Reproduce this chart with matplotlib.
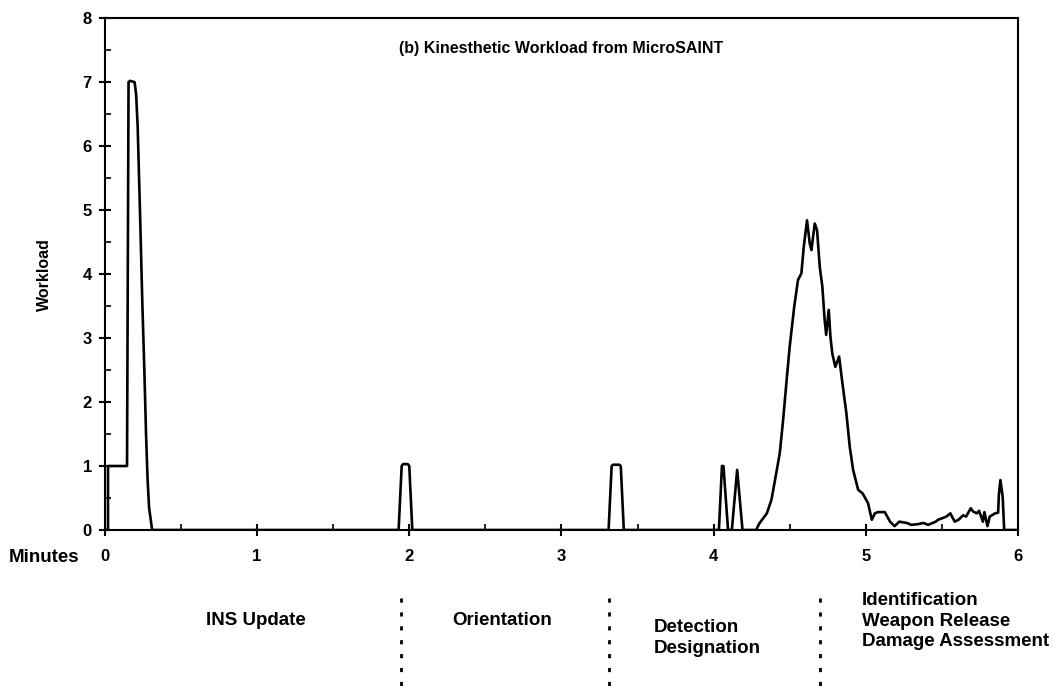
import matplotlib
matplotlib.use('Agg')
import matplotlib.pyplot as plt
from matplotlib.ticker import MultipleLocator

# Workload trace (minutes, workload)
minutes = [0.0, 0.02, 0.02, 0.145, 0.155, 0.165, 0.195, 0.205, 0.215, 0.23, 0.245, 0.26, 0.27, 0.28, 0.29, 0.31,
           1.93, 1.95, 1.96, 1.99, 2.0, 2.02,
           3.31, 3.33, 3.34, 3.38, 3.39, 3.41,
           4.035, 4.055, 4.065, 4.095, 4.12, 4.155, 4.19,
           4.28, 4.30, 4.35, 4.38, 4.40, 4.435, 4.457, 4.48, 4.50, 4.53, 4.555, 4.577, 4.593, 4.614,
           4.632, 4.643, 4.665, 4.68, 4.698, 4.715, 4.73, 4.74, 4.757, 4.768, 4.78, 4.80, 4.825, 4.847,
           4.873, 4.895, 4.917, 4.95, 4.98, 5.015, 5.04, 5.06, 5.08, 5.125, 5.16, 5.19, 5.22, 5.27,
           5.30, 5.34, 5.38, 5.41, 5.46, 5.475, 5.51, 5.53, 5.556, 5.585, 5.61, 5.64, 5.66, 5.69,
           5.705, 5.73, 5.745, 5.77, 5.78, 5.80, 5.815, 5.85, 5.87, 5.875, 5.885, 5.90, 5.91, 6.0]
workload = [0.0, 0.0, 1.0, 1.0, 7.0, 7.02, 7.0, 6.8, 6.3, 5.0, 3.6, 2.4, 1.5, 0.8, 0.35, 0.0,
            0.0, 1.0, 1.03, 1.03, 1.0, 0.0,
            0.0, 1.0, 1.02, 1.02, 1.0, 0.0,
            0.0, 1.0, 1.0, 0.0, 0.0, 0.94, 0.0,
            0.0, 0.10, 0.26, 0.47, 0.73, 1.20, 1.72, 2.34, 2.86, 3.49, 3.91, 4.01, 4.43, 4.84,
            4.48, 4.375, 4.79, 4.69, 4.11, 3.80, 3.28, 3.05, 3.44, 3.02, 2.76, 2.55, 2.71, 2.29,
            1.82, 1.30, 0.94, 0.63, 0.57, 0.42, 0.16, 0.26, 0.28, 0.28, 0.13, 0.06, 0.13, 0.11,
            0.08, 0.09, 0.11, 0.08, 0.13, 0.16, 0.19, 0.21, 0.26, 0.13, 0.16, 0.23, 0.21, 0.34,
            0.29, 0.26, 0.30, 0.13, 0.28, 0.06, 0.21, 0.26, 0.27, 0.55, 0.78, 0.52, 0.0, 0.0]

# Mission phases
phase_bounds = [1.945, 3.31, 4.70]
phase_labels = ['INS Update', 'Orientation', 'Detection\nDesignation',
                'Identification\nWeapon Release\nDamage Assessment']
phase_label_x = [0.99, 2.61, 3.61, 4.975]
phase_label_ha = ['center', 'center', 'left', 'left']
phase_label_y = [-0.176, -0.176, -0.211, -0.178]

plt.rcParams['font.family'] = ['Liberation Sans', 'DejaVu Sans']
plt.rcParams['font.weight'] = 'bold'

fig = plt.figure(figsize=(10.57, 6.98), dpi=100)
ax = fig.add_axes([0.0993, 0.2407, 0.8637, 0.7333])

ax.plot(minutes, workload, color='black', lw=1.9)

ax.set_xlim(0, 6)
ax.set_ylim(0, 8)
ax.xaxis.set_major_locator(MultipleLocator(1))
ax.xaxis.set_minor_locator(MultipleLocator(0.5))
ax.yaxis.set_major_locator(MultipleLocator(1))
ax.yaxis.set_minor_locator(MultipleLocator(0.5))
ax.tick_params(which='major', direction='inout', length=9, width=1.5, labelsize=12)
ax.tick_params(axis='x', which='major', pad=9)
ax.tick_params(axis='y', which='major', pad=5)
ax.tick_params(which='minor', direction='in', length=4, width=1.2)
for lab in ax.get_xticklabels() + ax.get_yticklabels():
    lab.set_fontweight('bold')
for s in ax.spines.values():
    s.set_linewidth(1.5)

ax.set_ylabel('Workload', fontsize=11.5, fontweight='bold', labelpad=22)
ax.text(0.5, 0.94, '(b) Kinesthetic Workload from MicroSAINT', transform=ax.transAxes,
        ha='center', va='center', fontsize=11.5, fontweight='bold')
ax.text(-0.028, -0.053, 'Minutes', transform=ax.transAxes, ha='right', va='center',
        fontsize=13.5, fontweight='bold')

trans = ax.get_xaxis_transform()
for xb in phase_bounds:
    ax.plot([xb, xb], [-0.133, -0.32], transform=trans, color='black', lw=2,
            linestyle=(0, (1.5, 3.5)), clip_on=False)
for lab, xl, ha, yl in zip(phase_labels, phase_label_x, phase_label_ha, phase_label_y):
    ax.text(xl, yl, lab, transform=trans, ha=ha, va='center', fontsize=13.5,
            fontweight='bold', linespacing=1.25)

fig.savefig('out.png', dpi=100)
